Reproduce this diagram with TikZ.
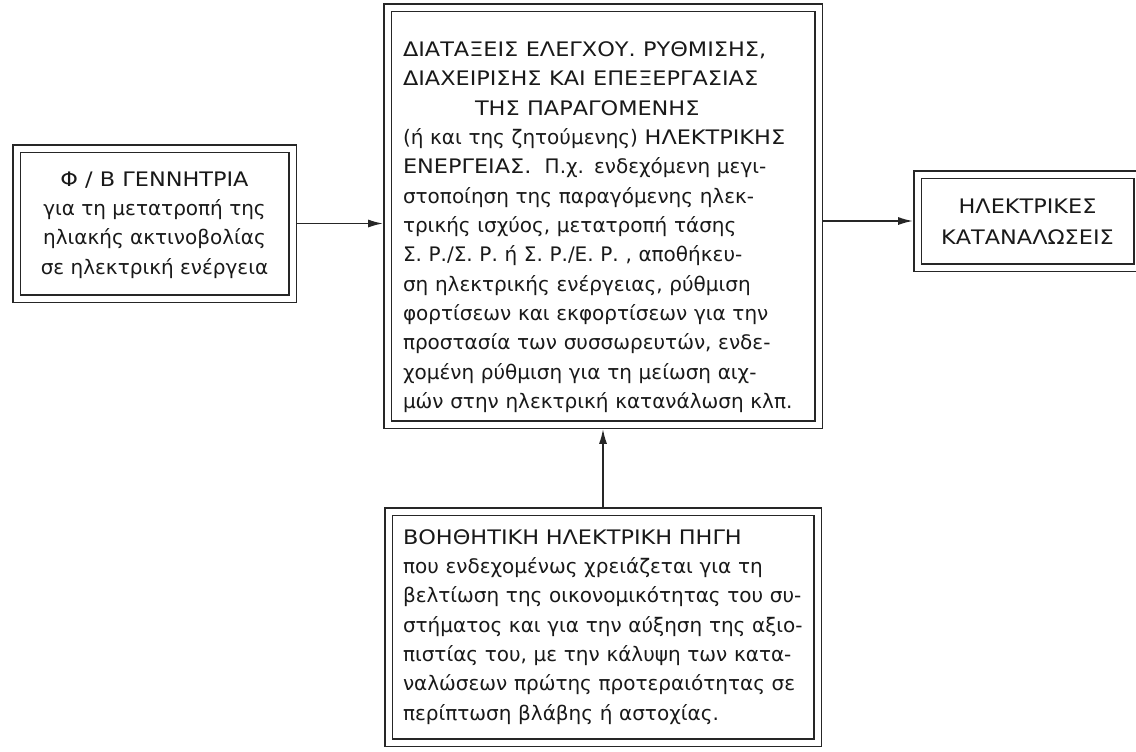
\documentclass[tikz,border=0pt]{standalone}
\usepackage{fontspec}
\usepackage{graphicx}
\setmainfont{DejaVu Sans}
\usetikzlibrary{arrows.meta}
% wider capitals for the headings
\newcommand\wc[1]{\scalebox{1.12}[1]{#1}}
% a line stretched to the full measure
\newcommand\fl[2]{\makebox[#1][s]{#2}}
\begin{document}
\begin{tikzpicture}[x=0.75pt,y=-0.75pt,
  frame/.style={draw=black!85, line width=1.2pt, double=white, double distance=4.5pt,
    outer sep=3.45pt, inner sep=0pt},
  txt/.style={inner sep=0pt, font=\fontsize{15}{22}\selectfont, text=black!90},
  link/.style={draw=black!85, line width=1.1pt, -{Latex[length=11pt,width=6pt]}}
]
\useasboundingbox (0,0) rectangle (1136,751);

% frames
\node[frame, minimum width=207pt, minimum height=112.5pt] (gen) at (154.5,223.5) {};
\node[frame, minimum width=323.25pt, minimum height=312.75pt] (ctrl) at (603,216) {};
\node[frame, minimum width=165pt, minimum height=69.75pt] (load) at (1027.5,221) {};
\node[frame, minimum width=321.75pt, minimum height=173.25pt] (aux) at (603,627) {};

% texts
\node[txt, align=center] (gentxt) at (154.5,225)
  {\wc{Φ / Β ΓΕΝΝΗΤΡΙΑ}\\για τη μετατροπή της\\ηλιακής ακτινοβολίας\\σε ηλεκτρική ενέργεια};

\node[txt, align=left, text width=300pt] (ctrltxt) at (603,227)
  {\wc{ΔΙΑΤΑΞΕΙΣ ΕΛΕΓΧΟΥ. ΡΥΘΜΙΣΗΣ,}\\
   \wc{ΔΙΑΧΕΙΡΙΣΗΣ ΚΑΙ ΕΠΕΞΕΡΓΑΣΙΑΣ}\\
   \hspace*{3.6em}\wc{ΤΗΣ ΠΑΡΑΓΟΜΕΝΗΣ}\\
   \fl{300pt}{(ή και της ζητούμενης) \wc{ΗΛΕΚΤΡΙΚΗΣ}}\\
   \fl{300pt}{\wc{ΕΝΕΡΓΕΙΑΣ.}\ \ Π.χ. ενδεχόμενη μεγι-}\\
   \fl{300pt}{στοποίηση της παραγόμενης ηλεκ-}\\
   \fl{300pt}{τρικής ισχύος, μετατροπή τάσης}\\
   \fl{300pt}{Σ. Ρ./Σ. Ρ. ή Σ. Ρ./Ε. Ρ. , αποθήκευ-}\\
   \fl{300pt}{ση ηλεκτρικής ενέργειας, ρύθμιση}\\
   \fl{300pt}{φορτίσεων και εκφορτίσεων για την}\\
   \fl{300pt}{προστασία των συσσωρευτών, ενδε-}\\
   \fl{300pt}{χομένη ρύθμιση για τη μείωση αιχ-}\\
   μών στην ηλεκτρική κατανάλωση κλπ.};

\node[txt, align=center, font=\fontsize{15}{23}\selectfont] (loadtxt) at (1027.5,222)
  {\wc{ΗΛΕΚΤΡΙΚΕΣ}\\\wc{ΚΑΤΑΝΑΛΩΣΕΙΣ}};

\node[txt, align=left, text width=300pt] (auxtxt) at (603,627)
  {\fl{300pt}{\wc{ΒΟΗΘΗΤΙΚΗ} \wc{ΗΛΕΚΤΡΙΚΗ} \wc{ΠΗΓΗ}}\\
   \fl{300pt}{που ενδεχομένως χρειάζεται για τη}\\
   \fl{300pt}{βελτίωση της οικονομικότητας του συ-}\\
   \fl{300pt}{στήματος και για την αύξηση της αξιο-}\\
   \fl{300pt}{πιστίας του, με την κάλυψη των κατα-}\\
   \fl{300pt}{ναλώσεων πρώτης προτεραιότητας σε}\\
   περίπτωση βλάβης ή αστοχίας.};

% connectors
\draw[link] (gen.east) -- (gen.east -| ctrl.west);
\draw[link] (ctrl.east |- load.west) -- (load.west);
\draw[link] (aux.north) -- (aux.north |- ctrl.south);
\end{tikzpicture}
\end{document}
